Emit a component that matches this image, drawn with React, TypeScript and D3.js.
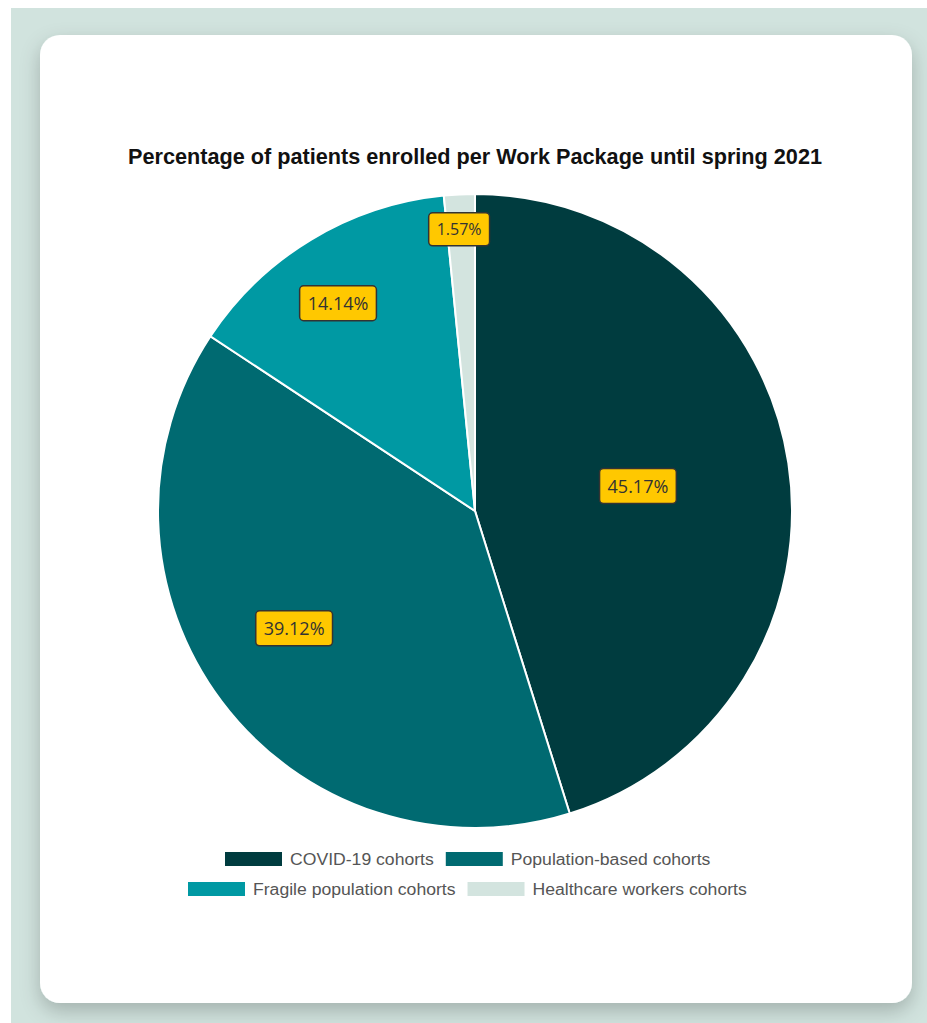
import React from "react";
import * as d3 from "d3";

const categories = [
  "COVID-19 cohorts",
  "Population-based cohorts",
  "Fragile population cohorts",
  "Healthcare workers cohorts",
];
const values = [45.17, 39.12, 14.14, 1.57];
const colors = ["#003c3f", "#006a71", "#0099a3", "#d3e4df"];
const labelRadiusFactor = [0.52, 0.68, 0.785, 0.89];
const labelAngleShift = [0, 0.07, -0.04, -0.007];
const labelFontSize = [18, 18, 18, 16];
const title = "Percentage of patients enrolled per Work Package until spring 2021";

const measure = (t: string, font: string) => {
  const c = document.createElement("canvas").getContext("2d")!;
  c.font = font;
  return c.measureText(t).width;
};

export default function App() {
  const W = 927;
  const H = 1023;
  const cx = 475;
  const cy = 511;
  const r = 317;

  const pie = d3
    .pie<number>()
    .sort(null)
    .value((d) => d);
  const arcs = pie(values);
  const arcGen = d3.arc<d3.PieArcDatum<number>>().innerRadius(0).outerRadius(r);

  const legendRows = [
    [0, 1],
    [2, 3],
  ];
  const legendRowY = [859, 889];
  const legendRowStartX = [225, 188];
  const legendFont = '16px "Liberation Sans", Arial, sans-serif';
  const legendStretch = 1.1;

  return (
    <svg
      width={W}
      height={H}
      style={{ position: "absolute", left: 0, top: 0 }}
      xmlns="http://www.w3.org/2000/svg"
    >
      <defs>
        <filter id="shadow" x="-10%" y="-10%" width="120%" height="125%">
          <feDropShadow dx="0" dy="8" stdDeviation="10" floodColor="#000" floodOpacity="0.22" />
        </filter>
      </defs>
      <rect x={0} y={0} width={W} height={H} fill="#ffffff" />
      <rect x={11} y={8} width={W - 11} height={H - 8} fill="#d1e3de" />
      <rect x={40} y={35} width={872} height={968} rx={20} ry={20} fill="#ffffff" filter="url(#shadow)" />

      <text
        x={475}
        y={164}
        textAnchor="middle"
        fontFamily='"Liberation Sans Narrow", "Liberation Sans", Arial, sans-serif'
        fontWeight="bold"
        fontSize={22}
        fill="#111"
        textLength={694}
        lengthAdjust="spacingAndGlyphs"
      >
        {title}
      </text>

      <g transform={`translate(${cx},${cy})`}>
        {arcs.map((a, i) => (
          <path key={i} d={arcGen(a) || ""} fill={colors[i]} stroke="#ffffff" strokeWidth={2} />
        ))}
        {arcs.map((a, i) => {
          const lr = r * labelRadiusFactor[i];
          const mid = (a.startAngle + a.endAngle) / 2 + labelAngleShift[i];
          const la = d3.arc().innerRadius(lr).outerRadius(lr).startAngle(mid).endAngle(mid);
          const [lx, ly] = (la as any).centroid();
          const txt = `${values[i].toFixed(2)}%`;
          const fs = labelFontSize[i];
          const tw = measure(txt, `${fs}px "Open Sans", "Noto Sans", sans-serif`);
          const bw = tw + 16;
          const bh = fs + 17;
          return (
            <g key={`l${i}`} transform={`translate(${lx},${ly})`}>
              <rect
                x={-bw / 2}
                y={-bh / 2}
                width={bw}
                height={bh}
                rx={4}
                ry={4}
                fill="#ffc800"
                stroke="#333"
                strokeWidth={1.5}
              />
              <text
                x={0}
                y={0}
                dy="0.36em"
                textAnchor="middle"
                fontFamily='"Open Sans", "Noto Sans", sans-serif'
                fontSize={fs}
                fill="#333"
              >
                {txt}
              </text>
            </g>
          );
        })}
      </g>

      {legendRows.map((row, ri) => {
        let x = legendRowStartX[ri];
        const y = legendRowY[ri];
        return (
          <g key={`lr${ri}`}>
            {row.map((ci) => {
              const bx = x;
              const tx = bx + 57 + 8;
              const w = measure(categories[ci], legendFont) * legendStretch;
              x = tx + w + 12;
              return (
                <g key={`li${ci}`}>
                  <rect x={bx} y={y - 7} width={57} height={14} fill={colors[ci]} />
                  <text
                    x={tx}
                    y={y}
                    dy="0.35em"
                    fontFamily='"Liberation Sans", Arial, sans-serif'
                    fontSize={16}
                    fill="#555"
                    textLength={w}
                    lengthAdjust="spacingAndGlyphs"
                  >
                    {categories[ci]}
                  </text>
                </g>
              );
            })}
          </g>
        );
      })}
    </svg>
  );
}
